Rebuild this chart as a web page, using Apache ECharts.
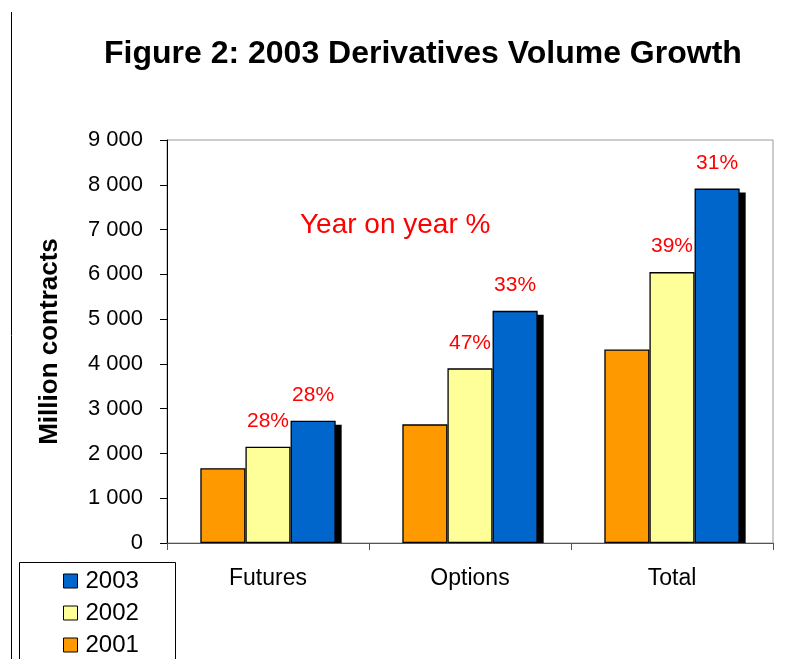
<!DOCTYPE html>
<html>
<head>
<meta charset="utf-8">
<script src="https://cdn.jsdelivr.net/npm/echarts@6/dist/echarts.min.js"></script>
<style>
  html, body { margin: 0; padding: 0; background: #fff; }
  #chart { width: 811px; height: 659px; }
</style>
</head>
<body>
<div id="chart"></div>
<script>
// Derivatives volume by segment, million contracts
const categories = ['Futures', 'Options', 'Total'];
const vol2001 = [1670, 2650, 4320];
const vol2002 = [2150, 3900, 6050];
const vol2003 = [2730, 5185, 7915];
// Year-on-year growth shown above the 2002 and 2003 bars
const growth2002 = ['28%', '47%', '39%'];
const growth2003 = ['28%', '33%', '31%'];
const yTicks = [0, 1000, 2000, 3000, 4000, 5000, 6000, 7000, 8000, 9000];

const font = 'Liberation Sans, Arial, sans-serif';
const CATEGORY_GAP = 0.33;

function fmtThousands(v) {
  return String(v).replace(/\B(?=(\d{3})+(?!\d))/g, ' ');
}

function growthLabel(texts) {
  return {
    show: true,
    position: 'top',
    distance: 15,
    color: '#ff0000',
    fontFamily: font,
    fontSize: 21,
    formatter: p => texts[p.dataIndex]
  };
}

const barBorder = { borderColor: '#000', borderWidth: 1.3 };

// Drop shadow behind the front (2003) bar of each group
function renderShadow(params, api) {
  const idx = api.value(0);
  const top = api.coord([idx, api.value(1)]);
  const base = api.coord([idx, 0]);
  const band = api.size([1, 0])[0];
  const groupW = band * (1 - CATEGORY_GAP);
  const bw = groupW / 3;
  const x = top[0] + groupW / 2 - bw + 6;
  return {
    type: 'rect',
    shape: { x: x, y: top[1] + 4, width: bw, height: base[1] - top[1] - 4 },
    style: { fill: '#000' }
  };
}

const chart = echarts.init(document.getElementById('chart'), null, { renderer: 'canvas' });
chart.setOption({
  animation: false,
  backgroundColor: '#fff',
  title: [{
    text: 'Figure 2: 2003 Derivatives Volume Growth',
    left: 99,
    top: 33,
    textStyle: { fontFamily: font, fontSize: 32, fontWeight: 'bold', color: '#000' }
  }, {
    text: 'Year on year %',
    left: 295,
    top: 206,
    textStyle: { fontFamily: font, fontSize: 28, fontWeight: 'normal', color: '#ff0000' }
  }],
  grid: {
    left: 167, right: 38, top: 140, bottom: 116,
    show: true, borderColor: '#999', borderWidth: 1
  },
  legend: {
    orient: 'vertical',
    left: 63,
    top: 569,
    padding: 0,
    itemGap: 8,
    itemWidth: 14,
    itemHeight: 14,
    icon: 'rect',
    data: ['2003', '2002', '2001'],
    textStyle: { fontFamily: font, fontSize: 24, color: '#000', padding: [0, 0, 0, 3] },
    itemStyle: { borderColor: '#000', borderWidth: 1 }
  },
  xAxis: {
    type: 'category',
    data: categories,
    axisLine: { lineStyle: { color: '#555', width: 1 } },
    axisTick: { show: true, length: 7, lineStyle: { color: '#555' } },
    axisLabel: { color: '#000', fontFamily: font, fontSize: 23, margin: 24 }
  },
  yAxis: {
    type: 'value',
    min: 0,
    max: 9000,
    interval: 1000,
    name: 'Million contracts',
    nameLocation: 'middle',
    nameGap: 104,
    nameTextStyle: { fontFamily: font, fontSize: 26, fontWeight: 'bold', color: '#000' },
    axisLine: { show: true, lineStyle: { color: '#000', width: 1 } },
    axisTick: { show: true, length: 7, lineStyle: { color: '#000' } },
    splitLine: { show: false },
    axisLabel: {
      color: '#000', fontFamily: font, fontSize: 22, margin: 24,
      customValues: yTicks,
      formatter: v => fmtThousands(v)
    }
  },
  series: [{
    type: 'custom',
    z: 1,
    renderItem: renderShadow,
    data: vol2003.map((v, i) => [i, v]),
    silent: true
  }, {
    name: '2001',
    type: 'bar',
    z: 2,
    data: vol2001,
    barGap: '0%',
    barCategoryGap: (CATEGORY_GAP * 100) + '%',
    itemStyle: Object.assign({ color: '#ff9900' }, barBorder)
  }, {
    name: '2002',
    type: 'bar',
    z: 2,
    data: vol2002,
    itemStyle: Object.assign({ color: '#ffff99' }, barBorder),
    label: growthLabel(growth2002)
  }, {
    name: '2003',
    type: 'bar',
    z: 2,
    data: vol2003,
    itemStyle: Object.assign({ color: '#0066cc' }, barBorder),
    label: growthLabel(growth2003)
  }],
  graphic: [{
    type: 'line',
    shape: { x1: 11.5, y1: 12, x2: 11.5, y2: 659 },
    style: { stroke: '#000', lineWidth: 1 }
  }, {
    type: 'rect',
    shape: { x: 19.5, y: 562.5, width: 156, height: 120 },
    style: { fill: 'none', stroke: '#000', lineWidth: 1 },
    z: -1
  }]
});
</script>
</body>
</html>
